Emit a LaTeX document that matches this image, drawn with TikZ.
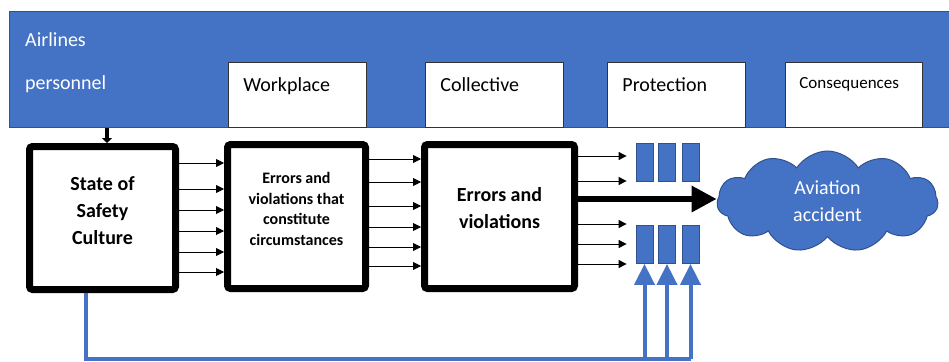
\documentclass[tikz,border=0pt]{standalone}
\usepackage{fontspec}
\setmainfont{Carlito}
\usetikzlibrary{arrows.meta,calc,positioning,shapes.symbols}
\definecolor{OfficeBlue}{RGB}{68,114,196}
\definecolor{OfficeEdge}{RGB}{47,82,143}

\begin{document}
\begin{tikzpicture}[x=1pt, y=-1pt,
    tabbox/.style={draw=black!80, fill=white, line width=0.8pt, anchor=north west, align=left,
      inner xsep=15pt, inner ysep=0pt, text width=108pt, text height=29pt, text depth=36pt,
      font=\fontsize{20}{24}\selectfont},
    stage/.style={draw=black, line width=7pt, rounded corners=3pt, fill=white},
    stagetext/.style={align=center, font=\bfseries\fontsize{20}{27}\selectfont},
    barrier/.style={draw=OfficeEdge, fill=OfficeBlue, line width=0.8pt, minimum width=17pt,
      minimum height=38pt, inner sep=0pt},
    flow/.style={-{Triangle[length=8pt,width=8pt]}, line width=0.9pt},
    feedback/.style={OfficeBlue, line width=4pt}]
    \useasboundingbox (0,0) rectangle (949,361);

    % organisational levels
    \node[draw=OfficeEdge, fill=OfficeBlue, line width=0.8pt, anchor=north west,
      minimum width=941pt, minimum height=116pt, inner sep=0pt] (crew) at (9,11) {};
    \node[anchor=base west, inner sep=0pt, text=white, font=\fontsize{20}{24}\selectfont] (crewtop) at (25,47) {Airlines};
    \node[anchor=base west, inner sep=0pt, text=white, font=\fontsize{20}{24}\selectfont] (crewbot) at (25,89) {personnel};
    \node[tabbox] (work) at (228,62) {Workplace};
    \node[tabbox] (coll) at (425,62) {Collective};
    \node[tabbox] (prot) at (607,62) {Protection};
    \node[tabbox, inner xsep=14pt, text width=109pt, text height=26pt, text depth=39pt,
      font=\fontsize{17}{20}\selectfont] (cons) at (785,62) {Consequences};

    % chain of stages
    \node[stage, minimum width=146pt, minimum height=143pt,
      label={[stagetext, yshift=7pt]center:State of\\Safety\\Culture}] (cult) at (102.5,218) {};
    \node[stage, minimum width=138pt, minimum height=144pt,
      label={[stagetext, font=\bfseries\fontsize{16}{20.5}\selectfont, yshift=7.5pt]center:Errors and\\violations that\\constitute\\circumstances}] (circ) at (296.5,216.5) {};
    \node[stage, minimum width=150pt, minimum height=144pt,
      label={[stagetext, yshift=8.5pt]center:Errors and\\violations}] (errv) at (499.5,216.5) {};

    % barriers
    \node[barrier] (p1) at (644.5,162.5) {};
    \node[barrier] (p2) at (667,162.5) {};
    \node[barrier] (p3) at (690.5,162.5) {};
    \node[barrier] (p4) at (644.5,244.5) {};
    \node[barrier] (p5) at (667,244.5) {};
    \node[barrier] (p6) at (690.5,244.5) {};

    \node[cloud, cloud puffs=11, cloud puff arc=115, aspect=2.2, draw=OfficeEdge, fill=OfficeBlue,
      line width=1pt, minimum width=221pt, minimum height=101pt, inner sep=0pt, text=white,
      align=center, font=\fontsize{20}{27}\selectfont] (acc) at (827.5,201.5) {Aviation\\accident};

    % connectors
    \coordinate (drop) at (107,0);
    \draw[-{Triangle[length=5pt,width=10pt]}, line width=4pt] (crew.south -| drop) -- (cult.north -| drop);
    \foreach \y in {163,189,210,231,252,272}
        \draw[flow] (cult.east |- 0,\y) -- (circ.west |- 0,\y);
    \foreach \y in {159,182,206,227,247,266}
        \draw[flow] (circ.east |- 0,\y) -- (errv.west |- 0,\y);
    \coordinate (gate) at ([xshift=-9pt]p1.west);
    \foreach \y in {156,181,224,244,264}
        \draw[flow] (errv.east |- 0,\y) -- (gate |- 0,\y);
    \draw[-{Triangle[length=25pt,width=25pt]}, line width=6pt] (errv.east |- 0,199) -- (acc.west |- 0,199);

    % feedback of safety culture to barriers
    \coordinate (fbcorner) at (86,359);
    \draw[feedback] (cult.south -| fbcorner) -- (fbcorner) -- (fbcorner -| p6.south);
    \foreach \p in {p4,p5,p6}
        \draw[feedback, -{Triangle[length=21pt,width=20pt]}] (fbcorner -| \p.south) -- (\p.south);
\end{tikzpicture}
\end{document}
